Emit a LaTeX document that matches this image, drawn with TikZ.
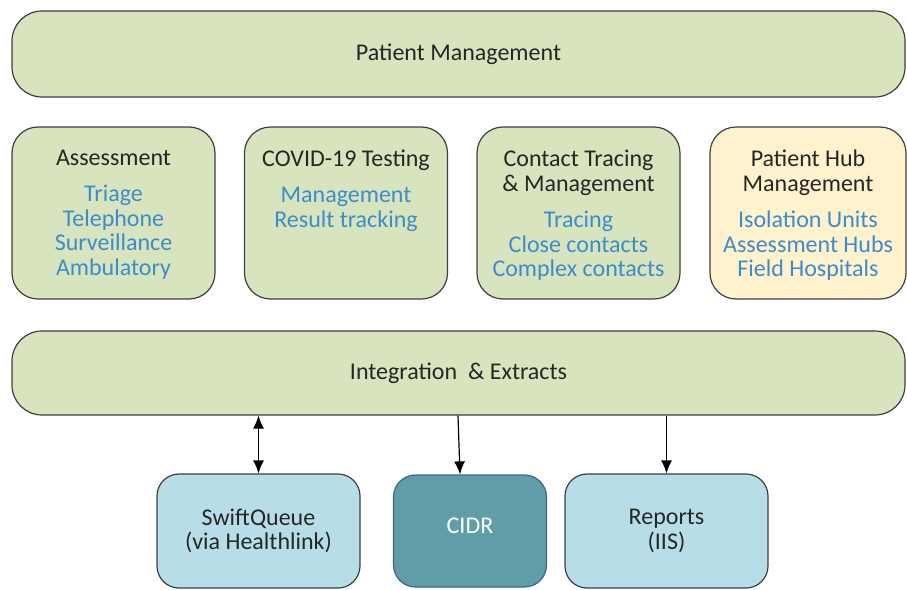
\documentclass[tikz,border=0pt]{standalone}
\usepackage{fontspec}
\setmainfont{Carlito}
\usetikzlibrary{arrows.meta}

\definecolor{boxgreen}{HTML}{D7E4BD}
\definecolor{boxyellow}{HTML}{FFF2CC}
\definecolor{boxblue}{HTML}{B7DEE8}
\definecolor{boxteal}{HTML}{609EA7}
\definecolor{tealedge}{HTML}{41648F}
\definecolor{edgegray}{HTML}{3F3F3F}
\definecolor{itemblue}{HTML}{3C8DCB}
\definecolor{titlegray}{HTML}{262626}

\begin{document}
\begin{tikzpicture}[x=1pt,y=-1pt,
  every node/.style={font=\fontsize{24}{24.6}\selectfont,text=titlegray,align=center},
  wide/.style={draw=edgegray,line width=1.2pt,fill=boxgreen,rounded corners=30pt,
    minimum width=893pt,inner sep=0pt},
  module/.style={draw=edgegray,line width=1.2pt,fill=boxgreen,rounded corners=26pt,
    minimum width=203pt,minimum height=172pt,inner sep=0pt},
  system/.style={draw=edgegray,line width=1.2pt,fill=boxblue,rounded corners=22pt,
    minimum width=203pt,minimum height=114pt,inner sep=0pt},
  items/.style={anchor=north,inner sep=0pt},
  arr/.style={line width=1.2pt,-{Latex[length=13pt,width=11pt]}},
  biarr/.style={line width=1.2pt,{Latex[length=13pt,width=11pt]}-{Latex[length=13pt,width=11pt]}}]
  \useasboundingbox (0,0) rectangle (907,589);

  % top and middle bars
  \node[wide,minimum height=86pt] (patmgmt) at (458.5,54) {Patient Management};
  \node[wide,minimum height=84pt] (integ) at (458.5,373) {Integration~~\& Extracts};

  % module boxes
  \node[module] (assess) at (113.5,213) {};
  \node[module] (testing) at (346,213) {};
  \node[module] (tracing) at (578.5,213) {};
  \node[module,fill=boxyellow,minimum width=196pt] (hub) at (808,213) {};

  \node[items] (assesstxt) at (113.5,150) {Assessment\\[11.5pt]
    \color{itemblue}Triage\\ \color{itemblue}Telephone\\
    \color{itemblue}Surveillance\\ \color{itemblue}Ambulatory};
  \node[items] (testingtxt) at (346,150) {COVID-19 Testing\\[11.5pt]
    \color{itemblue}Management\\ \color{itemblue}Result tracking};
  \node[items] (tracingtxt) at (578.5,150) {Contact Tracing\\ \& Management\\[11.5pt]
    \color{itemblue}Tracing\\ \color{itemblue}Close contacts\\
    \color{itemblue}Complex contacts};
  \node[items] (hubtxt) at (808,150) {Patient Hub\\ Management\\[11.5pt]
    \color{itemblue}Isolation Units\\ \color{itemblue}Assessment Hubs\\
    \color{itemblue}Field Hospitals};

  % external systems
  \node[system] (swift) at (258.5,531) {SwiftQueue\\ (via Healthlink)};
  \node[system,fill=boxteal,draw=tealedge,minimum width=153pt,minimum height=112pt,
    text=white,text depth=10pt] (cidr) at (470,531) {CIDR};
  \node[system] (reports) at (666.5,531) {Reports\\ (IIS)};

  \draw[biarr] (integ.south -| swift.north) -- (swift.north);
  \draw[arr] (integ.south -| 458,0) -- ([xshift=-10pt]cidr.north);
  \draw[arr] (integ.south -| reports.north) -- (reports.north);
\end{tikzpicture}
\end{document}
